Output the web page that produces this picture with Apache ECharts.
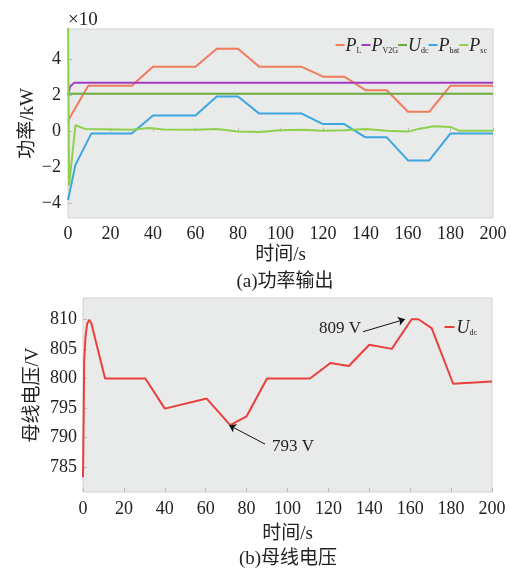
<!DOCTYPE html>
<html lang="zh">
<head>
    <meta charset="UTF-8">
    <title>功率输出 / 母线电压</title>
    <style>
        html, body { margin: 0; padding: 0; background: #fff; }
        #main { width: 510px; height: 568px; }
    </style>
</head>
<body>
    <div id="main"></div>
</body>
</html>
<script src="https://cdn.jsdelivr.net/npm/echarts@6/dist/echarts.min.js"></script>
<script type="text/javascript">
    const chart = echarts.init(document.getElementById('main'));

    const FONT = '"Liberation Serif", "Noto Sans CJK SC", serif';

    // (a) power output, unit x10 kW, points are [time s, value]
    const pL = [[0, 0.6], [9.5, 2.55], [30, 2.55], [40, 3.6], [60, 3.6], [70, 4.6], [80, 4.6], [90, 3.6],
        [110, 3.6], [120, 3.05], [130, 3.05], [140, 2.3], [150, 2.3], [160, 1.1], [170, 1.1], [180, 2.55], [200, 2.55]];
    const pV2G = [[0, 2.0], [1, 2.5], [3, 2.72], [200, 2.72]];
    const uDcFlat = [[0, 2.1], [200, 2.1]];
    const pBat = [[0, -3.8], [3.5, -1.85], [11, -0.1], [30, -0.1], [40, 0.9], [60, 0.9], [70, 1.95], [80, 1.95],
        [90, 1.0], [110, 1.0], [120, 0.42], [130, 0.42], [140, -0.32], [150, -0.32], [160, -1.6], [170, -1.6],
        [180, -0.1], [200, -0.1]];
    const pSc = [[0, 7], [0.5, -3.0], [3.5, 0.35], [8, 0.15], [30, 0.1], [38, 0.2], [45, 0.12], [60, 0.1],
        [70, 0.15], [80, 0.0], [90, -0.02], [100, 0.08], [110, 0.1], [120, 0.05], [130, 0.07], [140, 0.15],
        [150, 0.05], [160, 0.0], [165, 0.15], [172, 0.3], [180, 0.26], [184, 0.05], [200, 0.05]];

    // (b) bus voltage, V
    const uDc = [[0, 783.3], [0.6, 803], [1.2, 807], [2, 809.2], [3, 809.9], [4, 809.4], [10.8, 800], [30.5, 800],
        [40, 794.9], [60.5, 796.6], [72, 792.1], [80, 793.6], [90, 800], [111, 800], [121, 802.6], [130, 802.1],
        [140, 805.7], [151, 805], [160.7, 810], [164, 810], [170.5, 808.5], [181, 799.1], [200, 799.5]];

    // annotations: [text, text position, arrow start, arrow end]
    const notes = [
        ['809 V', [125.7, 808.4], [136.9, 807.9], [157.5, 810]],
        ['793 V', [102.7, 788.5], [89, 788.9], [71.4, 792.1]]
    ];

    const powerTicks = [-4, -2, 0, 2, 4];
    const voltTicks = [785, 790, 795, 800, 805, 810];

    const legendNames = {
        P_L: '{i|P}{s|L}',
        P_V2G: '{i|P}{s|V2G}',
        U_dc: '{i|U}{s|dc}',
        P_bat: '{i|P}{s|bat}',
        P_sc: '{i|P}{s|sc}',
        U_dc2: '{i|U}{s|dc}'
    };

    const legendRich = {
        i: { fontFamily: FONT, fontStyle: 'italic', fontSize: 18, color: '#222', verticalAlign: 'bottom', lineHeight: 20 },
        s: { fontFamily: FONT, fontSize: 8, color: '#222', verticalAlign: 'bottom', lineHeight: 13 }
    };

    const numLabel = { fontFamily: FONT, fontSize: 18, color: '#222' };
    const nameStyle = { fontFamily: FONT, fontSize: 19, color: '#222' };

    function xAxisOf(grid, gap, margin) {
        return {
            type: 'value', gridIndex: grid, min: 0, max: 200, interval: 20,
            name: '时间/s', nameLocation: 'middle', nameGap: gap, nameTextStyle: nameStyle,
            axisLine: { show: false },
            axisTick: { show: true, inside: true, length: 4, lineStyle: { color: '#bbb' } },
            axisLabel: Object.assign({ margin: margin }, numLabel),
            splitLine: { show: false }
        };
    }

    function line(name, data, color, grid) {
        return {
            name: name, type: 'line', data: data, xAxisIndex: grid, yAxisIndex: grid,
            showSymbol: false, symbol: 'none', clip: true,
            lineStyle: { color: color, width: 2 }, itemStyle: { color: color }
        };
    }

    const voltSeries = line('U_dc2', uDc, '#e8403c', 1);
    voltSeries.markLine = {
        silent: true, symbol: ['none', 'arrow'], symbolSize: 7,
        label: { show: false },
        lineStyle: { color: '#111', width: 1, type: 'solid' },
        data: notes.map(n => [{ coord: n[2] }, { coord: n[3] }])
    };
    voltSeries.markPoint = {
        silent: true, symbol: 'circle', symbolSize: 1,
        itemStyle: { color: 'rgba(0,0,0,0)' },
        label: { show: true, position: 'inside', fontFamily: FONT, fontSize: 17, color: '#222' },
        data: notes.map(n => ({ coord: n[1], value: n[0], label: { formatter: n[0] } }))
    };

    chart.setOption({
        animation: false,
        backgroundColor: '#fff',
        grid: [
            { left: 68, top: 29, width: 425, height: 189, show: true, backgroundColor: '#e9eaea', borderColor: '#d2d2d2' },
            { left: 83, top: 298, width: 409, height: 194, show: true, backgroundColor: '#e9eaea', borderColor: '#d2d2d2' }
        ],
        title: [
            { text: '×10', left: 63, top: 6, textStyle: { fontFamily: FONT, fontSize: 19, fontWeight: 'normal', color: '#222' } },
            { text: '(a)功率输出', left: 280, top: 268, textAlign: 'center', textStyle: { fontFamily: FONT, fontSize: 19, fontWeight: 'normal', color: '#222' } },
            { text: '(b)母线电压', left: 283, top: 545, textAlign: 'center', textStyle: { fontFamily: FONT, fontSize: 19, fontWeight: 'normal', color: '#222' } }
        ],
        legend: [
            {
                data: ['P_L', 'P_V2G', 'U_dc', 'P_bat', 'P_sc'],
                right: 18, top: 32, itemGap: 0, itemWidth: 9, itemHeight: 2, icon: 'rect',
                formatter: n => legendNames[n],
                textStyle: { rich: legendRich, padding: [0, 0, 0, -4] }
            },
            {
                data: ['U_dc2'],
                right: 28, top: 314, itemWidth: 10, itemHeight: 2, icon: 'rect',
                formatter: n => legendNames[n],
                textStyle: { rich: legendRich, padding: [0, 0, 0, -3] }
            }
        ],
        xAxis: [xAxisOf(0, 28, 7), xAxisOf(1, 33, 8)],
        yAxis: [
            {
                type: 'value', gridIndex: 0, min: -4.8, max: 5.7,
                name: '功率/kW', nameLocation: 'middle', nameGap: 30, nameRotate: 90, nameTextStyle: nameStyle,
                nameMoveOverlap: false,
                axisLine: { show: false },
                axisTick: { show: true, inside: true, length: 4, customValues: powerTicks, lineStyle: { color: '#bbb' } },
                axisLabel: Object.assign({
                    margin: 7, customValues: powerTicks,
                    formatter: v => (v < 0 ? '−' + (-v) : String(v))
                }, numLabel),
                splitLine: { show: false }
            },
            {
                type: 'value', gridIndex: 1, min: 780.8, max: 813.6,
                name: '母线电压/V', nameLocation: 'middle', nameGap: 40, nameRotate: 90, nameTextStyle: nameStyle,
                nameMoveOverlap: false,
                axisLine: { show: false },
                axisTick: { show: true, inside: true, length: 4, customValues: voltTicks, lineStyle: { color: '#bbb' } },
                axisLabel: Object.assign({ margin: 6, customValues: voltTicks }, numLabel),
                splitLine: { show: false }
            }
        ],
        series: [
            line('P_L', pL, '#f07c5c', 0),
            line('P_V2G', pV2G, '#a23cc2', 0),
            line('U_dc', uDcFlat, '#6aab3c', 0),
            line('P_bat', pBat, '#3da6e2', 0),
            line('P_sc', pSc, '#8fd04c', 0),
            voltSeries
        ]
    });
</script>
